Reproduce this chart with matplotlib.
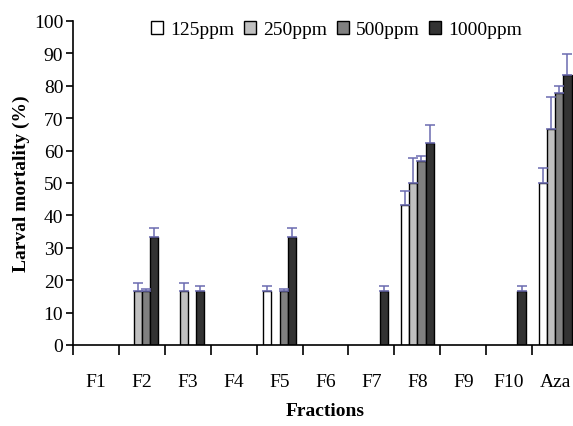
import matplotlib.pyplot as plt
import numpy as np

plt.rcParams['font.family'] = 'Liberation Serif'

fractions = ['F1', 'F2', 'F3', 'F4', 'F5', 'F6', 'F7', 'F8', 'F9', 'F10', 'Aza']
doses = ['125ppm', '250ppm', '500ppm', '1000ppm']

m125 = [0, 0, 0, 0, 16.7, 0, 0, 43.3, 0, 0, 50.0]
m250 = [0, 16.7, 16.7, 0, 0, 0, 0, 50.0, 0, 0, 66.7]
m500 = [0, 16.7, 0, 0, 16.7, 0, 0, 56.9, 0, 0, 77.8]
m1000 = [0, 33.3, 16.7, 0, 33.3, 0, 16.7, 62.5, 0, 16.7, 83.3]

e125 = [0, 0, 0, 0, 1.4, 0, 0, 4.2, 0, 0, 4.6]
e250 = [0, 2.4, 2.4, 0, 0, 0, 0, 7.6, 0, 0, 9.9]
e500 = [0, 0.5, 0, 0, 0.5, 0, 0, 1.5, 0, 0, 2.2]
e1000 = [0, 2.9, 1.4, 0, 2.9, 0, 1.4, 5.3, 0, 1.4, 6.6]

means = [m125, m250, m500, m1000]
errs = [e125, e250, e500, e1000]
colors = ['white', '#c0c0c0', '#808080', '#333333']

fig = plt.figure(figsize=(5.73, 4.27), dpi=100)
ax = fig.add_axes([73 / 573, 81 / 427, 505 / 573, 324 / 427])

x = np.arange(len(fractions))
w = 0.18
for i in range(4):
    pos = x + (i - 1.5) * w
    vals = np.array(means[i])
    er = np.array(errs[i])
    show = vals > 0
    ax.bar(pos[show], vals[show], width=w, color=colors[i], edgecolor='black',
           linewidth=1.0, label=doses[i])
    ax.errorbar(pos[show], vals[show], yerr=[np.zeros(show.sum()), er[show]],
                fmt='none', ecolor='#6b6bb0', elinewidth=1.1, capsize=3.3, capthick=1.1)

ax.set_xlim(-0.5, len(fractions) - 0.5)
ax.set_ylim(0, 100)
ax.set_yticks(range(0, 101, 10))
ax.set_xticks(x)
ax.set_xticklabels(fractions)
ax.set_xticks(np.arange(-0.5, len(fractions), 1), minor=True)
ax.tick_params(axis='x', which='major', length=0, pad=20, labelsize=14)
ax.tick_params(axis='x', which='minor', length=7, width=1.2, direction='out')
ax.tick_params(axis='y', length=5, width=1.2, labelsize=14, pad=2)

for s in ['top', 'right']:
    ax.spines[s].set_visible(False)
for s in ['left', 'bottom']:
    ax.spines[s].set_linewidth(1.2)

ax.set_ylabel('Larval mortality (%)', fontsize=14, fontweight='bold', labelpad=3)
ax.set_xlabel('Fractions', fontsize=14, fontweight='bold', labelpad=9)

ax.legend(loc='upper left', bbox_to_anchor=(0.155, 1.0), ncol=4, frameon=False,
          fontsize=14, handlelength=0.62, handleheight=0.62, handletextpad=0.35,
          columnspacing=0.5, borderaxespad=0, borderpad=0)

fig.savefig('out.png', dpi=100)
